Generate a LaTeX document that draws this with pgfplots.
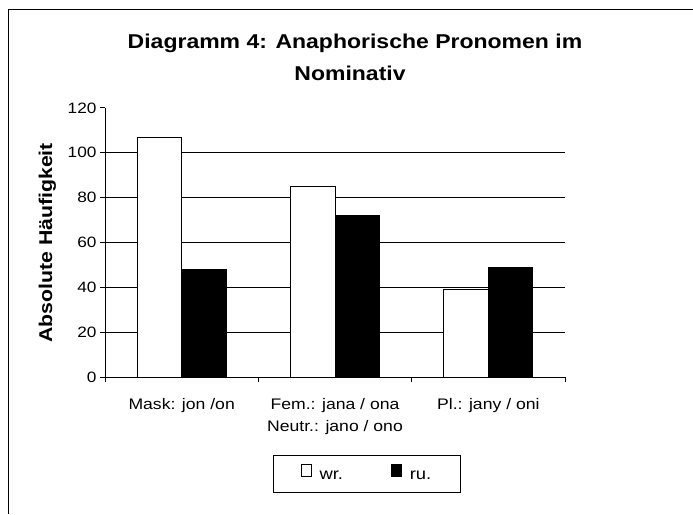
\documentclass[border=0pt]{standalone}
\usepackage{fontspec}
\setmainfont{Liberation Sans}[FakeStretch=1.15]
\usepackage{pgfplots}
\pgfplotsset{compat=1.18}
\begin{document}
\begin{tikzpicture}[x=1pt,y=1pt]
\path[use as bounding box] (0,0) rectangle (693,514);
\draw[line width=1pt] (8,0) -- (8,504) -- (693,504);
\node[anchor=base, font=\bfseries\fontsize{20}{24}\selectfont] at (355,465) {Diagramm 4: Anaphorische Pronomen im};
\node[anchor=base, font=\bfseries\fontsize{20}{24}\selectfont] at (350,433) {Nominativ};
\node[rotate=90, anchor=base, font=\bfseries\fontsize{18.5}{22}\selectfont] at (52,271) {Absolute Häufigkeit};
\begin{axis}[
  at={(105pt,137pt)}, anchor=south west, scale only axis,
  width=460pt, height=269pt,
  xmin=-0.5, xmax=2.5, ymin=0, ymax=120,
  axis x line*=bottom, axis y line*=left,
  axis line style={-, line width=1pt},
  tick align=outside, major tick length=5pt,
  tick style={line width=1pt, black},
  /pgf/number format/assume math mode=true,
  ybar=0pt, bar width=44.5pt,
  xtick={-0.5,0.5,1.5,2.5}, xticklabels={},
  extra x ticks={0,1,2},
  extra x tick labels={Mask: jon /on, {Fem.: jana / ona\\Neutr.: jano / ono}, Pl.: jany / oni},
  extra x tick style={major tick length=0pt, tick label style={align=center, anchor=north, yshift=-18pt, font=\fontsize{15.3}{22}\selectfont}},
  ytick={0,20,...,120},
  yticklabel style={font=\fontsize{15}{17}\selectfont},
  extra y ticks={20,40,60,80,100}, extra y tick labels={},
  extra y tick style={grid=major, major tick length=0pt},
  grid style={line width=0.8pt, black},
  legend style={at={(axis description cs:0.5696,-0.3587)}, anchor=center,
    legend columns=2, draw=black, line width=0.8pt,
    font=\fontsize{16}{18}\selectfont, inner xsep=27pt, inner ysep=9pt,
    /tikz/every odd column/.append style={column sep=6pt},
    /tikz/every even column/.append style={column sep=46pt}},
  legend image code/.code={\draw[#1, line width=0.8pt] (0pt,-0.5pt) rectangle (10pt,11.5pt);},
]
\addplot[fill=white, draw=black, line width=0.9pt] coordinates {(0,107) (1,85) (2,39)};
\addplot[fill=black, draw=black, line width=0.9pt] coordinates {(0,48) (1,72) (2,49)};
\legend{wr., ru.}
\end{axis}
\end{tikzpicture}
\end{document}
